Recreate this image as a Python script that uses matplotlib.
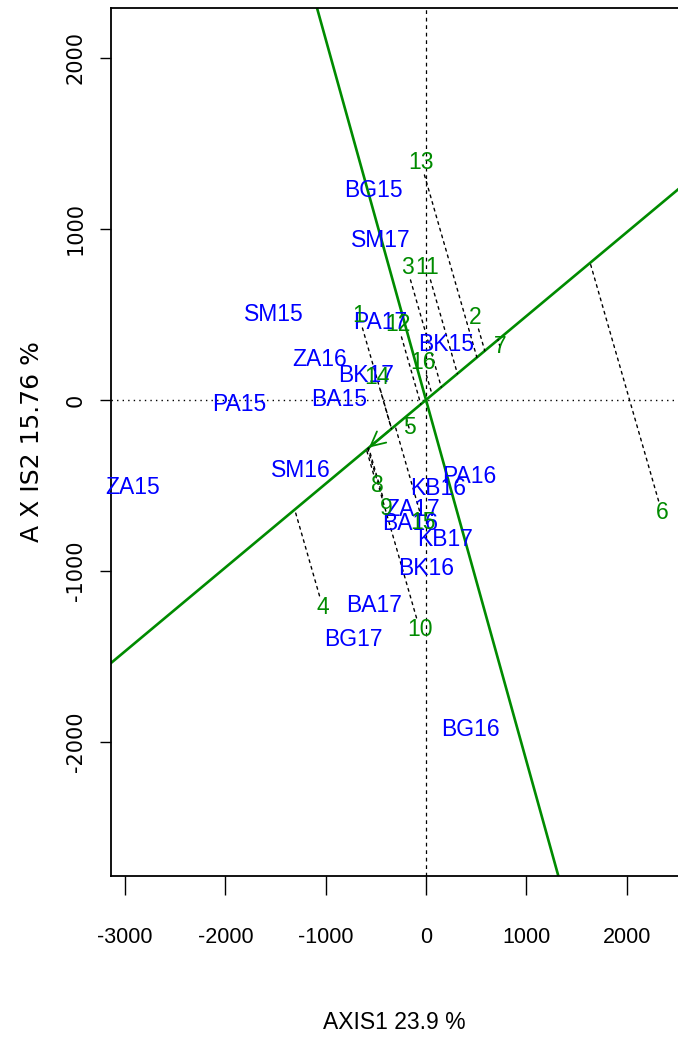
import numpy as np
import matplotlib
matplotlib.use('Agg')
import matplotlib.pyplot as plt

plt.rcParams['axes.unicode_minus'] = False

# genotipos (etiquetas azules)
genotipos = ['BG15', 'SM17', 'SM15', 'PA17', 'ZA16', 'BK17', 'BA15', 'PA15', 'BK15', 'ZA15',
             'SM16', 'PA16', 'KB16', 'ZA17', 'BA16', 'KB17', 'BK16', 'BA17', 'BG17', 'BG16']
gen_x = [-528, -449, -1515, -459, -1057, -598, -867, -1864, 199, -2921,
         -1246, 429, 120, -130, -160, 189, 0, -518, -728, 439]
gen_y = [1222, 930, 497, 450, 234, 140, 0, -29, 322, -515,
         -415, -450, -520, -643, -725, -819, -988, -1205, -1403, -1930]

# ambientes (etiquetas verdes)
ambientes = ['13', '3', '11', '1', '12', '2', '7', '16', '14', '5',
             '8', '9', '15', '4', '10', '6']
amb_x = [-50, -189, 10, -668, -279, 489, 738, -30, -489, -169,
         -489, -399, -30, -1027, -60, 2353]
amb_y = [1386, 772, 772, 491, 439, 485, 310, 216, 129, -164,
         -503, -632, -719, -1216, -1345, -661]

# ejes del biplot
pendiente_atc = 0.49
pendiente_ord = -2.11
flecha = (-590, -289)

verde = '#008B00'
azul = '#0000FF'
fuente = ['Liberation Sans', 'DejaVu Sans']

fig = plt.figure(figsize=(6.78, 10.40), dpi=100)
ax = fig.add_axes([0.1637, 0.1577, 0.8363, 0.8346])
xmin, xmax = -3140, 2512
ymin, ymax = -2784, 2292
ax.set_xlim(xmin, xmax)
ax.set_ylim(ymin, ymax)

# lineas de referencia en cero
ax.axhline(0, color='black', lw=1, ls=(0, (1, 3)))
ax.axvline(0, color='black', lw=0.9, ls=(0, (3, 3)))

# rectas verdes
xs = np.array([xmin, xmax])
ax.plot(xs, pendiente_atc * xs, color=verde, lw=1.9)
ax.plot(xs, pendiente_ord * xs, color=verde, lw=1.9)
ax.annotate('', xy=flecha, xytext=(flecha[0] * 0.6, flecha[1] * 0.6),
            arrowprops=dict(arrowstyle='->', color=verde, lw=1.3, mutation_scale=26))

# proyecciones de los ambientes
for x, y in zip(amb_x, amb_y):
    t = (x + pendiente_atc * y) / (1 + pendiente_atc ** 2)
    ax.annotate('', xy=(t, pendiente_atc * t), xytext=(x, y),
                arrowprops=dict(arrowstyle='-', color='black', lw=1, ls=(0, (2, 3)),
                                shrinkA=9, shrinkB=0))

for nombre, x, y in zip(genotipos, gen_x, gen_y):
    ax.text(x, y, nombre, color=azul, fontsize=16.5, family=fuente,
            ha='center', va='center')
for nombre, x, y in zip(ambientes, amb_x, amb_y):
    ax.text(x, y, nombre, color=verde, fontsize=16.5, family=fuente,
            ha='center', va='center')

ax.spines['right'].set_visible(False)
for s in ['top', 'left', 'bottom']:
    ax.spines[s].set_linewidth(1.3)

ax.set_xticks([-3000, -2000, -1000, 0, 1000, 2000])
ax.set_yticks([-2000, -1000, 0, 1000, 2000])
ax.tick_params(axis='x', length=14, width=1, pad=23)
ax.tick_params(axis='y', length=8, width=1, pad=10)
for lab in ax.get_xticklabels():
    lab.set_family(fuente)
    lab.set_fontsize(15.5)
for lab in ax.get_yticklabels():
    lab.set_family('DejaVu Sans')
    lab.set_fontsize(15)
    lab.set_rotation(90)
    lab.set_va('center')

ax.set_xlabel('AXIS1 23.9 %', family=fuente, fontsize=16.5, labelpad=45)
ax.set_ylabel('A X IS2 15.76 %', family='DejaVu Sans', fontsize=18, labelpad=16)

plt.savefig('out.png', dpi=100)
